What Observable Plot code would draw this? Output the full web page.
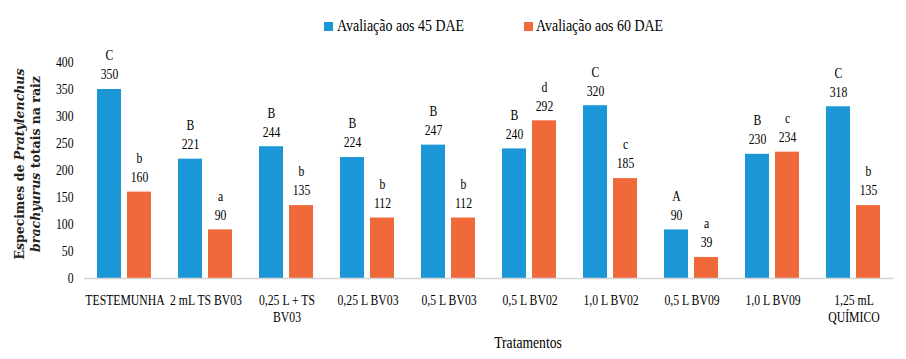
<!DOCTYPE html>
<html>
<head>
<meta charset="utf-8">
<script src="https://cdn.jsdelivr.net/npm/d3@7"></script>
<script src="https://cdn.jsdelivr.net/npm/@observablehq/plot@0.6"></script>
<style>
  html, body { margin: 0; padding: 0; background: #fff; }
  #wrap { position: relative; width: 906px; height: 359px; overflow: hidden; font-family: 'Liberation Serif', serif; color: #000; }
  #chart { position: absolute; left: 0; top: 0; }
  .sq { position: absolute; width: 9px; height: 9px; }
  .lg { position: absolute; font-family: 'Liberation Serif', serif; font-size: 17px; white-space: nowrap; transform: scaleX(0.82); transform-origin: left center; }
  #ytitle { position: absolute; width: 280px; text-align: center; font-family: 'DejaVu Serif', serif; font-weight: bold; font-size: 12.5px; line-height: 16px; color: #222; transform: rotate(-90deg); transform-origin: center center; white-space: nowrap; }
  #xtitle { position: absolute; font-family: 'Liberation Serif', serif; font-size: 16px; white-space: nowrap; transform: translateX(-50%) scaleX(0.85); }
</style>
</head>
<body>
<div id="wrap">
  <div id="chart"></div>
</div>
<script>
const treatments = ["TESTEMUNHA", "2 mL TS BV03", "0,25 L + TS\nBV03", "0,25 L BV03", "0,5 L BV03", "0,5 L BV02", "1,0 L BV02", "0,5 L BV09", "1,0 L BV09", "1,25 mL\nQUÍMICO"];
const series = ["Avaliação aos 45 DAE", "Avaliação aos 60 DAE"];
const values45 = [350, 221, 244, 224, 247, 240, 320, 90, 230, 318];
const values60 = [160, 90, 135, 112, 112, 292, 185, 39, 234, 135];
const letters45 = ["C", "B", "B", "B", "B", "B", "C", "A", "B", "C"];
const letters60 = ["b", "a", "b", "b", "b", "d", "c", "a", "c", "b"];
const yTicks = [0, 50, 100, 150, 200, 250, 300, 350, 400];
const colors = ["#1b97d8", "#f0693a"];
const yTitle1 = ["Especimes de ", "Pratylenchus"];
const yTitle2 = ["brachyurus", " totais na raiz"];
const xTitle = "Tratamentos";

const rows = [];
treatments.forEach((t, i) => {
  rows.push({t, s: series[0], v: values45[i], l: letters45[i]});
  rows.push({t, s: series[1], v: values60[i], l: letters60[i]});
});

const serif = "'Liberation Serif', serif";
const chart = Plot.plot({
  width: 906,
  height: 359,
  marginLeft: 79,
  marginRight: 8,
  marginTop: 62,
  marginBottom: 81,
  style: {fontFamily: serif, fontSize: "15px", color: "#000", background: "transparent"},
  fx: {domain: treatments, padding: 0, axis: null},
  x: {domain: series, paddingInner: 0.194, paddingOuter: 0.42, axis: null},
  y: {domain: [0, 400], axis: null},
  color: {domain: series, range: colors},
  marks: [
    Plot.barY(rows, {fx: "t", x: "s", y: "v", fill: "s"}),
    Plot.ruleY([0], {stroke: "#d4d4d4", strokeWidth: 1.5}),
    Plot.text(rows, {fx: "t", x: "s", y: "v", text: d => String(d.v), dy: -15, fill: "#000", fontFamily: serif}),
    Plot.text(rows, {fx: "t", x: "s", y: "v", text: "l", dy: -34, fill: "#000", fontFamily: serif}),
    Plot.axisFx({anchor: "bottom", tickSize: 0, tickPadding: 15, label: null, lineHeight: 1.12, fill: "#000", fontFamily: serif}),
    Plot.axisY({ticks: yTicks, tickSize: 0, tickPadding: 11, label: null, fill: "#000", fontFamily: serif})
  ]
});
document.getElementById("chart").appendChild(chart);

// condense serif text horizontally (the reference is squeezed)
const squeeze = 0.78;
d3.select(chart).selectAll("text").each(function() {
  const spans = this.querySelectorAll("tspan");
  const targets = spans.length ? Array.from(spans) : [this];
  targets.forEach(el => {
    const len = el.getComputedTextLength();
    if (len > 0) {
      el.setAttribute("textLength", len * squeeze);
      el.setAttribute("lengthAdjust", "spacingAndGlyphs");
    }
  });
});

// legend
const wrap = document.getElementById("wrap");
const legendPos = [{sx: 324, tx: 337}, {sx: 524, tx: 536}];
series.forEach((s, i) => {
  const sq = document.createElement("div");
  sq.className = "sq";
  sq.style.left = legendPos[i].sx + "px";
  sq.style.top = "22px";
  sq.style.background = colors[i];
  wrap.appendChild(sq);
  const lg = document.createElement("div");
  lg.className = "lg";
  lg.style.left = legendPos[i].tx + "px";
  lg.style.top = "16px";
  lg.textContent = s;
  wrap.appendChild(lg);
});

// y title
const yt = document.createElement("div");
yt.id = "ytitle";
yt.innerHTML = `<div>${yTitle1[0]}<i>${yTitle1[1]}</i></div><div><i>${yTitle2[0]}</i>${yTitle2[1]}</div>`;
yt.style.left = (28 - 140) + "px";
yt.style.top = (164 - 16) + "px";
wrap.appendChild(yt);

// x title
const xt = document.createElement("div");
xt.id = "xtitle";
xt.textContent = xTitle;
xt.style.left = "528px";
xt.style.top = "334px";
wrap.appendChild(xt);
</script>
</body>
</html>
